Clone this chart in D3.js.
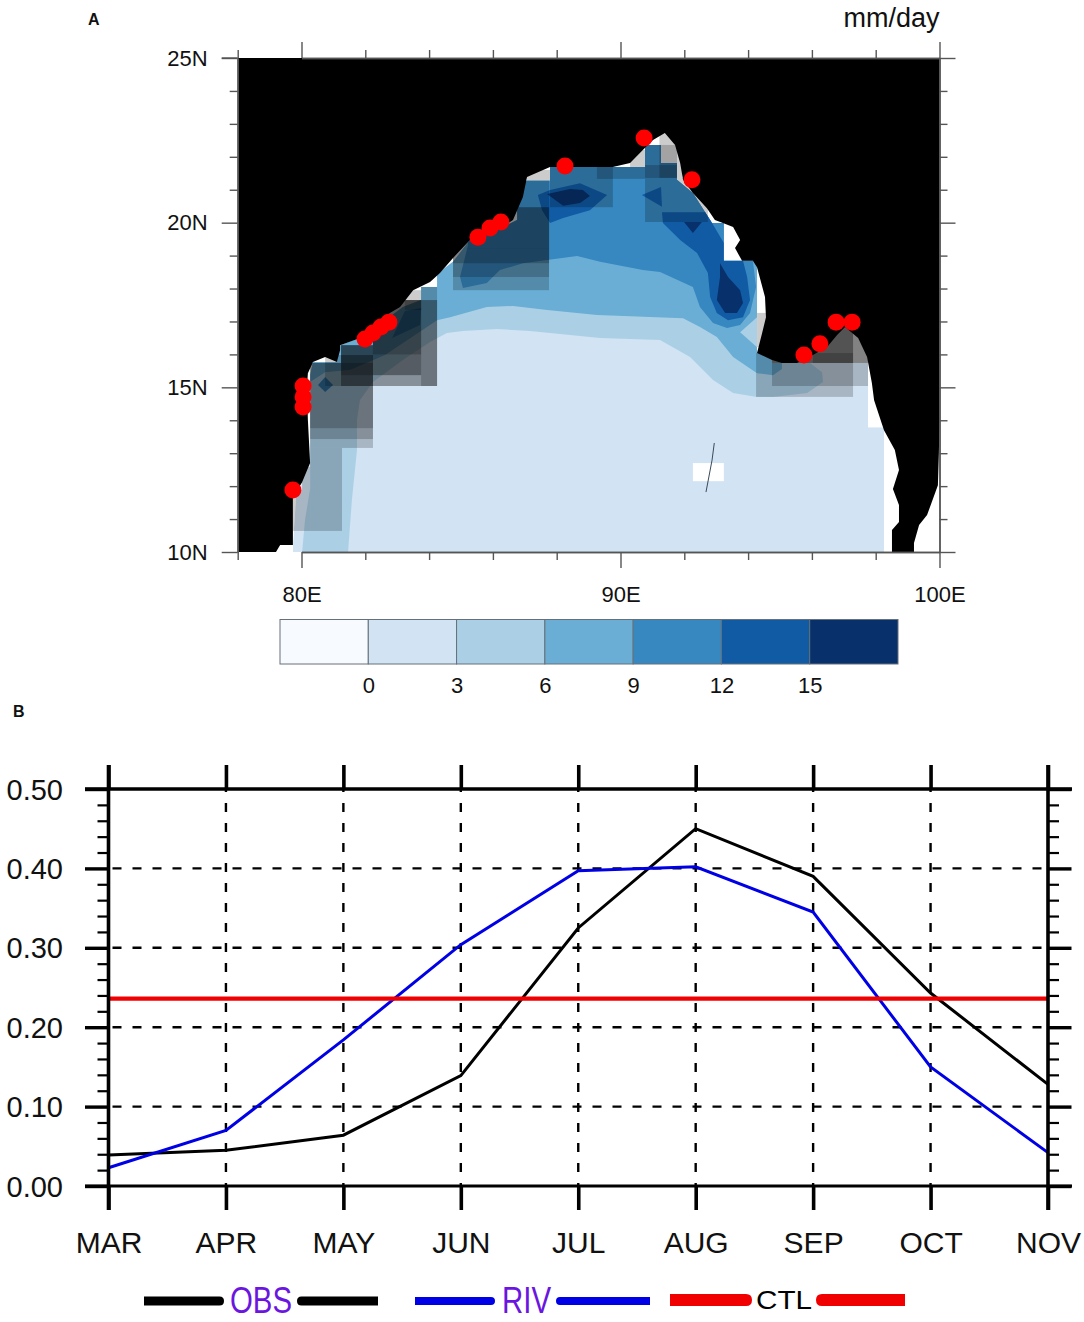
<!DOCTYPE html>
<html><head><meta charset="utf-8">
<script src="https://cdn.jsdelivr.net/npm/d3@7"></script>
<style>html,body{margin:0;padding:0;background:#fff}svg{display:block}text{font-family:"Liberation Sans",Arial,sans-serif}</style>
</head><body><svg id="c" width="1084" height="1322"></svg>
<script>
// ---------- Panel A data (lon, lat) ----------
const landWest = [[78,10],[79.20,10],[79.33,10.21],[79.73,10.21],[79.73,11.67],[80.02,12.12],[80.27,12.70],[80.20,14.01],[80.17,15.01],[80.20,15.43],[80.36,15.77],[80.74,15.92],[81.11,15.77],[81.21,16.13],[81.21,16.28],[81.93,16.53],[82.77,17.26],[83.09,17.44],[83.50,17.95],[84.03,18.20],[84.34,18.47],[84.75,18.93],[85.28,19.47],[86.13,19.78],[86.63,20.08],[86.94,20.78],[87.07,21.39],[87.79,21.69],[88.51,21.69],[89.26,21.69],[89.76,21.69],[90.30,21.81],[90.70,22.21],[91.02,22.51],[91.39,22.72],[91.71,22.36],[91.87,21.81],[91.96,21.30],[92.27,20.90],[92.71,20.44],[92.96,20.08],[93.21,19.99],[93.53,19.87],[93.75,19.47],[93.59,19.23],[93.81,18.84],[94.15,18.84],[94.28,18.65],[94.53,17.74],[94.56,17.13],[94.44,16.65],[94.28,16.04],[94.75,15.83],[95.06,15.74],[95.53,15.74],[96.03,15.98],[96.47,16.22],[96.79,16.59],[97.04,16.83],[97.45,16.50],[97.73,15.92],[97.88,15.13],[97.95,14.61],[98.26,13.70],[98.60,13.10],[98.73,12.49],[98.54,11.91],[98.73,11.43],[98.73,10.91],[98.51,10.67],[98.51,10],[99.20,10],[99.20,10.27],[99.36,10.82],[99.61,11.12],[99.95,12.03],[99.98,13.00],[100,14],[100,25],[78,25]];
const oceanOutline = [[79.73,10],[98.26,10],[98.26,13.79],[97.76,13.79],[97.76,15.74],[94.75,15.74],[94.75,16.04],[94.28,16.04],[94.28,18.84],[93.24,18.84],[93.24,19.99],[92.87,19.99],[92.27,20.90],[91.77,21.30],[91.77,21.81],[91.27,21.81],[91.27,22.36],[90.77,22.36],[90.77,21.69],[87.79,21.69],[87.79,21.27],[86.76,21.27],[86.76,20.08],[86.13,19.78],[85.28,19.47],[84.75,18.81],[84.25,18.44],[84.25,18.05],[83.75,18.05],[83.75,17.65],[83.18,17.44],[81.93,16.53],[81.21,16.28],[81.11,15.77],[80.36,15.77],[80.27,15.37],[80.27,12.70],[80.02,12.12],[79.83,11.67],[79.73,10.21]];
const contour3 = [[80.02,10],[81.46,10],[81.58,11.58],[81.74,13.10],[81.74,14.01],[81.83,14.61],[82.24,15.16],[83.18,15.83],[84.03,16.38],[84.56,16.65],[85.06,16.71],[86.13,16.77],[87.16,16.71],[89.36,16.50],[91.24,16.44],[92.18,15.92],[92.90,15.22],[93.53,14.83],[94.28,14.71],[94.78,14.71],[95.85,14.83],[96.35,15.16],[96.32,15.46],[95.94,15.74],[95.94,25],[80.27,25],[80.27,11.93],[80.11,10.97]];
const contour6 = [[80.27,15.16],[80.74,15.46],[81.52,15.53],[82.62,15.98],[83.56,16.59],[84.25,17.04],[84.66,17.13],[85.81,17.44],[86.63,17.47],[87.70,17.35],[89.26,17.20],[91.96,17.10],[92.49,16.83],[93.02,16.53],[93.53,15.92],[94.28,15.43],[94.78,15.37],[95.06,15.56],[95.06,25],[80.27,25]];
const pocket3 = [[94.28,17.13],[93.75,16.67],[94.28,16.22]];
const contour9 = [[85.22,19.32],[84.97,18.35],[85.06,18.02],[85.81,18.17],[86.22,18.56],[86.94,18.77],[87.70,18.87],[88.64,18.99],[89.36,18.81],[90.70,18.56],[91.24,18.50],[92.27,18.05],[92.49,17.44],[92.90,16.95],[93.34,16.80],[93.75,16.89],[94.06,17.26],[94.25,18.05],[94.15,18.84],[94.15,25],[85.22,25]];
const tongue9 = [[82.84,16.50],[83.72,16.89],[83.75,17.41],[83.24,17.32]];
const diamond9 = [[80.52,15.07],[80.74,15.31],[80.99,15.07],[80.74,14.86]];
const cell12East = [[91.30,20.32],[91.33,19.99],[91.87,19.47],[92.40,19.08],[92.74,18.47],[92.81,17.74],[93.02,17.26],[93.37,17.04],[93.84,17.13],[94.06,17.65],[93.97,18.35],[93.84,18.84],[93.24,18.84],[93.24,19.38],[92.87,19.99],[92.74,20.32]];
const cell12Tri = [[90.67,20.84],[91.27,21.08],[91.30,20.48]];
const cell12North = [[87.41,20.84],[87.79,20.99],[88.73,21.20],[89.58,20.84],[89.04,20.38],[88.20,20.14],[87.79,19.99],[87.54,20.38]];
const cell15East = [[93.12,18.77],[93.37,18.35],[93.75,17.95],[93.84,17.56],[93.65,17.26],[93.28,17.26],[93.02,17.65],[93.12,18.35]];
const cell15Tri = [[91.99,20.02],[92.55,20.02],[92.27,19.69]];
const cell15North = [[87.70,20.87],[88.42,21.02],[88.82,20.99],[89.04,20.81],[88.73,20.60],[88.20,20.51]];
// masked boxes: lon0, lat0, lon1, lat1
const maskBoxes = [
 [80.27,13.16,81.27,10.64],[79.73,11.88,80.27,10.64],[80.02,12.58,80.27,11.88],
 [80.27,15.74,82.24,13.16],[80.27,15.74,82.24,13.43],[80.27,15.74,82.24,13.76],
 [80.74,15.98,82.24,15.04],[81.24,16.28,82.24,15.04],[81.24,16.28,82.24,15.04],[81.24,16.28,82.24,15.74],[81.24,16.28,82.24,15.74],[81.24,15.98,82.24,15.37],
 [82.24,17.65,84.25,15.04],[82.24,17.65,84.25,15.04],[82.24,17.65,83.75,15.37],[82.24,17.65,83.75,15.37],[82.24,17.65,83.75,16.00],[83.75,18.05,84.25,15.04],[83.24,17.95,83.75,17.35],
 [84.75,19.23,87.76,17.95],[84.75,19.23,87.76,18.35],[84.75,20.47,87.76,18.77],[86.76,21.27,87.76,20.47],[84.75,20.47,87.76,19.23],[84.75,20.47,87.76,19.23],
 [87.79,21.69,89.76,20.47],[89.26,21.69,90.77,21.33],[87.07,21.6,87.79,21.27],
 [90.77,21.36,92.74,20.02],[90.77,22.36,91.77,21.36],[91.22,22.72,91.93,21.36],[90.30,22.21,90.77,21.69],[90.77,21.75,91.77,21.36],
 [94.25,16.04,97.29,14.71],[94.75,15.74,97.76,15.04],[94.75,16.83,97.76,15.74],[94.75,16.83,97.76,15.74],[94.75,16.83,97.76,15.74],[94.75,16.83,97.29,15.74],[96.03,16.83,97.29,15.74],[94.28,17.26,94.56,16.22]
];
const gapBox = [92.27,12.70,93.24,12.15];
const islandLine = [[92.94,13.31],[92.87,12.79],[92.68,11.82]];
const stations = [[79.73,11.88],[80.05,15.04],[80.05,14.71],[80.05,14.40],[81.99,16.47],[82.24,16.65],[82.49,16.83],[82.74,16.98],[85.53,19.56],[85.91,19.84],[86.25,20.02],[88.26,21.72],[90.74,22.57],[92.24,21.30],[95.75,15.98],[96.25,16.32],[96.76,16.98],[97.26,16.98]];
const lonMajor = [80,90,100];
const lonMinor = [78,82,84,86,88,92,94,96,98];
const latMajor = [10,15,20,25];
const latMinor = [11,12,13,14,16,17,18,19,21,22,23,24];
const cbLevels = [0,3,6,9,12,15];
const cbColors = ["#f7fbff","#d2e3f3","#abd0e6","#6aaed6","#3787c0","#105ba4","#08306b"];

// ---------- Panel B data ----------
const months = ["MAR","APR","MAY","JUN","JUL","AUG","SEP","OCT","NOV"];
const obs = [0.039,0.045,0.064,0.139,0.325,0.450,0.390,0.243,0.128];
const riv = [0.023,0.070,0.184,0.304,0.397,0.402,0.345,0.150,0.042];
const ctl = [0.236,0.236,0.236,0.236,0.236,0.236,0.236,0.236,0.236];
const yMajor = [0,0.1,0.2,0.3,0.4,0.5];
const yMinor = [0.02,0.04,0.06,0.08,0.12,0.14,0.16,0.18,0.22,0.24,0.26,0.28,0.32,0.34,0.36,0.38,0.42,0.44,0.46,0.48];
const yGrid = [0.1,0.2,0.3,0.4];

const svg = d3.select("#c");
const font = '"Liberation Sans",Arial,sans-serif';

// ---------- Panel A ----------
const X = d3.scaleLinear().domain([80,100]).range([301.5,939.5]);
const Y = d3.scaleLinear().domain([25,10]).range([58,552]);
const line = d3.line().x(d=>X(d[0])).y(d=>Y(d[1]));
const closed = p => line(p)+"Z";

svg.append("clipPath").attr("id","sea").append("path").attr("d",closed(oceanOutline));
const A = svg.append("g");
const sea = A.append("g").attr("clip-path","url(#sea)");
sea.append("path").attr("d",closed(oceanOutline)).attr("fill",cbColors[1]);
const fills = [[contour3,2],[contour6,3],[pocket3,2],[contour9,4],[tongue9,4],[diamond9,4],
  [cell12East,5],[cell12Tri,5],[cell12North,5],[cell15East,6],[cell15Tri,6],[cell15North,6]];
fills.forEach(([p,i])=>sea.append("path").attr("d",closed(p)).attr("fill",cbColors[i]));
A.selectAll("rect.gap").data([gapBox]).join("rect").attr("class","gap")
 .attr("x",d=>X(d[0])).attr("y",d=>Y(d[1])).attr("width",d=>X(d[2])-X(d[0])).attr("height",d=>Y(d[3])-Y(d[1])).attr("fill","#fff");
A.selectAll("rect.mask").data(maskBoxes).join("rect").attr("class","mask")
 .attr("x",d=>X(d[0])).attr("y",d=>Y(d[1])).attr("width",d=>X(d[2])-X(d[0])).attr("height",d=>Y(d[3])-Y(d[1]))
 .attr("fill","#000").attr("fill-opacity",0.2);
A.append("path").attr("d",closed(landWest)).attr("fill","#000");
A.append("path").attr("d",line(islandLine)).attr("fill","none").attr("stroke","#3a4a5a").attr("stroke-width",1);
A.selectAll("circle").data(stations).join("circle").attr("cx",d=>X(d[0])).attr("cy",d=>Y(d[1])).attr("r",8.5).attr("fill","#fe0000");

function styleAxis(g,col,w,size){
  g.select(".domain").attr("stroke",col).attr("stroke-width",w);
  g.selectAll(".tick line").attr("stroke",col).attr("stroke-width",w);
  g.selectAll(".tick text").attr("font-family",font).attr("font-size",size).attr("fill","#111");
}
function axisPair(gen,scale,major,minor,pos,fmt,lenMaj,lenMin,pad){
  const mk=(vals,len,f,p)=>{
    const g=svg.append("g").attr("transform",pos);
    g.call(gen(scale).tickValues(vals).tickSize(len).tickSizeOuter(0).tickPadding(p).tickFormat(f));
    return g;
  };
  const a=mk(minor,lenMin,()=>"",0); const b=mk(major,lenMaj,fmt,pad);
  return [a,b];
}
const frame="#555";
const mapAxes=[
 axisPair(d3.axisTop,X,lonMajor,lonMinor,"translate(0,58)",()=>"",16,8,0),
 axisPair(d3.axisBottom,X,lonMajor,lonMinor,"translate(0,552)",d=>d+"E",16,8,18),
 axisPair(d3.axisLeft,Y,latMajor,latMinor,"translate(237.7,0)",d=>d+"N",16,8,14),
 axisPair(d3.axisRight,Y,latMajor,latMinor,"translate(939.5,0)",()=>"",16,8,0)
];
mapAxes.flat().forEach(g=>styleAxis(g,frame,1.4,22));
svg.append("line").attr("x1",X(78)-16).attr("x2",X(78)).attr("y1",Y(25)).attr("y2",Y(25)).attr("stroke",frame).attr("stroke-width",1.4);

const T=(x,y,s,size,opt={})=>svg.append("text").attr("x",x).attr("y",y).text(s).attr("font-size",size)
   .attr("text-anchor",opt.anchor||"start").attr("font-weight",opt.weight||"normal").attr("fill",opt.fill||"#111");
T(X(100),27,"mm/day",27,{anchor:"end"});
T(88,25,"A",16,{weight:"bold"});
T(13,717,"B",16,{weight:"bold"});

// colour bar
const cb = d3.scaleBand().domain(d3.range(cbColors.length)).range([280,898]).paddingInner(0).paddingOuter(0);
svg.selectAll("rect.cb").data(cbColors).join("rect").attr("class","cb")
 .attr("x",(d,i)=>cb(i)).attr("y",619.5).attr("width",cb.bandwidth()).attr("height",44.5)
 .attr("fill",d=>d).attr("stroke","#66707a").attr("stroke-width",1);
const cbScale = d3.scaleLinear().domain([-3,18]).range([280,898]);
const cbAx = svg.append("g").attr("transform","translate(0,664)")
 .call(d3.axisBottom(cbScale).tickValues(cbLevels).tickSize(0).tickPadding(13).tickFormat(d3.format("d")));
cbAx.select(".domain").remove();
cbAx.selectAll("text").attr("font-family",font).attr("font-size",22).attr("fill","#111");

// ---------- Panel B ----------
const XB = d3.scalePoint().domain(months).range([108.5,1048]);
const YB = d3.scaleLinear().domain([0,0.5]).range([1186,789]);
const B = svg.append("g");
B.selectAll("line.gy").data(yGrid).join("line").attr("class","gy").attr("x1",108.5).attr("x2",1048).attr("y1",d=>YB(d)).attr("y2",d=>YB(d))
 .attr("stroke","#000").attr("stroke-width",2.4).attr("stroke-dasharray","9 11").attr("stroke-dashoffset",-4);
B.selectAll("line.gx").data(months.slice(1,-1)).join("line").attr("class","gx").attr("x1",d=>XB(d)).attr("x2",d=>XB(d)).attr("y1",789).attr("y2",1186)
 .attr("stroke","#000").attr("stroke-width",2.4).attr("stroke-dasharray","9 11").attr("stroke-dashoffset",-14);

const ln = d3.line().x((d,i)=>XB(months[i])).y(d=>YB(d));
B.append("path").attr("d",ln(obs)).attr("fill","none").attr("stroke","#000").attr("stroke-width",3);
B.append("path").attr("d",ln(riv)).attr("fill","none").attr("stroke","#0000e6").attr("stroke-width",3);
B.append("path").attr("d",ln(ctl)).attr("fill","none").attr("stroke","#f00000").attr("stroke-width",4.4);

function yAxes(gen,x,fmt){
  const g1=svg.append("g").attr("transform",`translate(${x},0)`).call(gen(YB).tickValues(yMinor).tickSize(11).tickSizeOuter(0).tickFormat(()=>""));
  const g2=svg.append("g").attr("transform",`translate(${x},0)`).call(gen(YB).tickValues(yMajor).tickSize(23.5).tickSizeOuter(0).tickPadding(22).tickFormat(fmt));
  g1.selectAll("line").attr("stroke","#000").attr("stroke-width",2.2);
  g2.selectAll("line").attr("stroke","#000").attr("stroke-width",3.4);
  [g1,g2].forEach(g=>g.select(".domain").remove());
  g2.selectAll("text").attr("font-family",font).attr("font-size",29).attr("fill","#111").attr("dy","0.35em");
}
yAxes(d3.axisLeft,108.5,d3.format(".2f"));
yAxes(d3.axisRight,1048,()=>"");
function xAxes(gen,y,fmt,size){
  const g=svg.append("g").attr("transform",`translate(0,${y})`).call(gen(XB).tickSize(size).tickSizeOuter(0).tickPadding(22).tickFormat(fmt));
  g.select(".domain").remove();
  g.selectAll("line").attr("stroke","#000").attr("stroke-width",3.6);
  g.selectAll("text").attr("font-family",font).attr("font-size",30).attr("fill","#111");
}
xAxes(d3.axisTop,789,()=>"",24);
xAxes(d3.axisBottom,1186,d=>d,24);
[[789,3.6],[1186,3.2]].forEach(([y,w])=>svg.append("line").attr("x1",85).attr("x2",1072).attr("y1",y).attr("y2",y).attr("stroke","#000").attr("stroke-width",w));
[108.5,1048].forEach(x=>svg.append("line").attr("x1",x).attr("x2",x).attr("y1",765).attr("y2",1210).attr("stroke","#000").attr("stroke-width",3.6));

// legend
const legendNames=["OBS","RIV","CTL"];
const legendColors=["#000","#0000e6","#f00000"];
const legendFill=["#6a16e0","#6a16e0","#000"];
const legendSizes=[36,36,26];
const legendW=[62,49,56];
const legendCx=[261,526.5,784];
const legendSeg=[[144,224,297,378],[415,495,556,650],[670,752,816,905]];
const legendH=[9,8,12];
legendNames.forEach((n,i)=>{
  const [a,b,c,d]=legendSeg[i],h=legendH[i],y=1301-(i==2?1:0);
  const r=h/2;
  svg.append("path").attr("fill",legendColors[i]).attr("d",
    `M${a},${y-r}H${b-r}Q${b},${y-r} ${b},${y}Q${b},${y+r} ${b-r},${y+r}H${a}Z M${d},${y-r}H${c+r}Q${c},${y-r} ${c},${y}Q${c},${y+r} ${c+r},${y+r}H${d}Z`);
  svg.append("text").attr("x",legendCx[i]).attr("y",1301+(i==2?8:12)).attr("text-anchor","middle").attr("font-size",legendSizes[i])
    .attr("textLength",legendW[i]).attr("lengthAdjust","spacingAndGlyphs").attr("fill",legendFill[i]).text(n);
});
</script></body></html>
